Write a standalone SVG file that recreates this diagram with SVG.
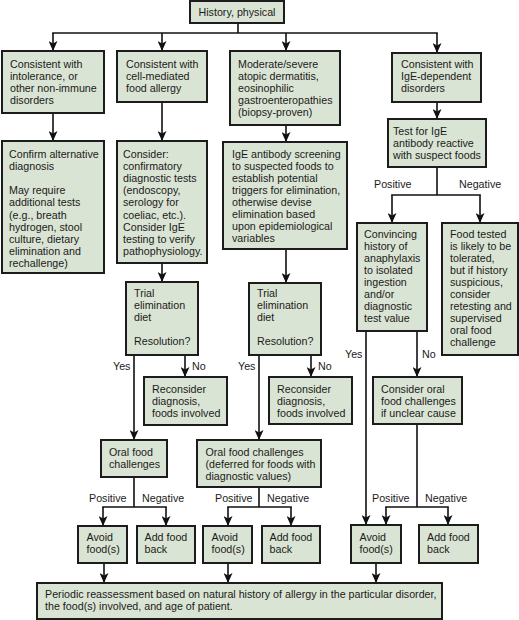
<svg xmlns="http://www.w3.org/2000/svg" width="519" height="620" viewBox="0 0 519 620">
<defs>
<marker id="ah" markerUnits="userSpaceOnUse" markerWidth="11" markerHeight="9" refX="10" refY="4.5" orient="auto" viewBox="0 0 11 9">
<path d="M0,0 L10,4.5 L0,9 L2.5,4.5 Z" fill="#111"/>
</marker>
</defs>
<style>
.b{fill:#dae4d4;stroke:#1c1c1c;stroke-width:2}
text{font-family:"Liberation Sans",Arial,Helvetica,sans-serif;font-size:10.7px;fill:#1a1a1a}
.c line,.c path{stroke:#111;stroke-width:1.6;fill:none}
.a{marker-end:url(#ah)}
</style>
<rect width="519" height="620" fill="#fff"/>

<g class="c" id="connectors">
<line x1="238" y1="23" x2="238" y2="33"/>
<line x1="52.2" y1="33" x2="437.8" y2="33"/>
<line class="a" x1="53" y1="33" x2="53" y2="51"/>
<line class="a" x1="162" y1="33" x2="162" y2="51"/>
<line class="a" x1="286" y1="33" x2="286" y2="51"/>
<line class="a" x1="437" y1="33" x2="437" y2="53"/>
<line class="a" x1="53" y1="113" x2="53" y2="141"/>
<line class="a" x1="162" y1="102" x2="162" y2="141"/>
<line class="a" x1="286" y1="125" x2="286" y2="142"/>
<line class="a" x1="437" y1="102" x2="437" y2="119"/>
<line x1="437" y1="167" x2="437" y2="195"/>
<line x1="391.2" y1="195" x2="480.8" y2="195"/>
<line class="a" x1="392" y1="195" x2="392" y2="223"/>
<line class="a" x1="480" y1="195" x2="480" y2="223"/>
<line class="a" x1="366" y1="331" x2="366" y2="525"/>
<line class="a" x1="417" y1="331" x2="417" y2="377"/>
<line x1="417" y1="424" x2="417" y2="507"/>
<line x1="385.2" y1="507" x2="448.8" y2="507"/>
<line class="a" x1="386" y1="507" x2="386" y2="525"/>
<line class="a" x1="448" y1="507" x2="448" y2="525"/>
<line class="a" x1="376" y1="563" x2="376" y2="583"/>
<line class="a" x1="162" y1="263" x2="162" y2="282"/>
<line class="a" x1="134" y1="355" x2="134" y2="440"/>
<line class="a" x1="185" y1="355" x2="185" y2="377"/>
<line x1="134" y1="477" x2="134" y2="507"/>
<line x1="102.2" y1="507" x2="166.8" y2="507"/>
<line class="a" x1="103" y1="507" x2="103" y2="526"/>
<line class="a" x1="166" y1="507" x2="166" y2="526"/>
<line class="a" x1="104" y1="563" x2="104" y2="583"/>
<line class="a" x1="286" y1="249" x2="286" y2="283"/>
<line class="a" x1="259" y1="355" x2="259" y2="440"/>
<line class="a" x1="311" y1="355" x2="311" y2="377"/>
<line x1="259" y1="487" x2="259" y2="507"/>
<line x1="227.2" y1="507" x2="291.8" y2="507"/>
<line class="a" x1="228" y1="507" x2="228" y2="526"/>
<line class="a" x1="291" y1="507" x2="291" y2="526"/>
<line class="a" x1="228" y1="563" x2="228" y2="583"/>
<text x="374" y="188">Positive</text>
<text x="459" y="188">Negative</text>
<text x="113" y="370">Yes</text>
<text x="192" y="370">No</text>
<text x="238" y="370">Yes</text>
<text x="318" y="370">No</text>
<text x="345" y="358">Yes</text>
<text x="422" y="358">No</text>
<text x="89" y="502">Positive</text>
<text x="142" y="502">Negative</text>
<text x="215" y="502">Positive</text>
<text x="267" y="502">Negative</text>
<text x="372" y="502">Positive</text>
<text x="425" y="502">Negative</text>
</g>

<g id="n-history"><rect class="b" x="190" y="1" width="94" height="22"/><text x="237" y="15.5" text-anchor="middle">History, physical</text></g>

<g id="n-intolerance"><rect class="b" x="2" y="51" width="102" height="62"/>
<text x="10" y="68">Consistent with</text><text x="10" y="80.1">intolerance, or</text><text x="10" y="92.2">other non-immune</text><text x="10" y="104.3">disorders</text></g>

<g id="n-cellmediated"><rect class="b" x="117" y="51" width="90" height="51"/>
<text x="126" y="68">Consistent with</text><text x="126" y="80.1">cell-mediated</text><text x="126" y="92.2">food allergy</text></g>

<g id="n-atopic"><rect class="b" x="230" y="51" width="110" height="74"/>
<text x="238" y="68">Moderate/severe</text><text x="238" y="80.1">atopic dermatitis,</text><text x="238" y="92.2">eosinophilic</text><text x="238" y="104.3">gastroenteropathies</text><text x="238" y="116.4">(biopsy-proven)</text></g>

<g id="n-igedep"><rect class="b" x="392" y="53" width="89" height="49"/>
<text x="401" y="68">Consistent with</text><text x="401" y="80.1">IgE-dependent</text><text x="401" y="92.2">disorders</text></g>

<g id="n-testige"><rect class="b" x="388" y="119" width="98" height="48"/>
<text x="393" y="135">Test for IgE</text><text x="393" y="147.1">antibody reactive</text><text x="393" y="159.2">with suspect foods</text></g>

<g id="n-confirm"><rect class="b" x="2" y="141" width="102" height="132"/>
<text x="9" y="158">Confirm alternative</text><text x="9" y="170.1">diagnosis</text>
<text x="9" y="194.3">May require</text><text x="9" y="206.4">additional tests</text><text x="9" y="218.5">(e.g., breath</text><text x="9" y="230.6">hydrogen, stool</text><text x="9" y="242.7">culture, dietary</text><text x="9" y="254.8">elimination and</text><text x="9" y="266.9">rechallenge)</text></g>

<g id="n-consider"><rect class="b" x="117" y="141" width="90" height="122"/>
<text x="123" y="158">Consider:</text><text x="123" y="170.1">confirmatory</text><text x="123" y="182.2">diagnostic tests</text><text x="123" y="194.3">(endoscopy,</text><text x="123" y="206.4">serology for</text><text x="123" y="218.5">coeliac, etc.).</text><text x="123" y="230.6">Consider IgE</text><text x="123" y="242.7">testing to verify</text><text x="123" y="254.8">pathophysiology.</text></g>

<g id="n-screening"><rect class="b" x="223" y="142" width="124" height="107"/>
<text x="232" y="157.5">IgE antibody screening</text><text x="232" y="169.6">to suspected foods to</text><text x="232" y="181.7">establish potential</text><text x="232" y="193.8">triggers for elimination,</text><text x="232" y="205.9">otherwise devise</text><text x="232" y="218">elimination based</text><text x="232" y="230.1">upon epidemiological</text><text x="232" y="242.2">variables</text></g>

<g id="n-convincing"><rect class="b" x="357" y="223" width="70" height="108"/>
<text x="364" y="238">Convincing</text><text x="364" y="250">history of</text><text x="364" y="262">anaphylaxis</text><text x="364" y="274">to isolated</text><text x="364" y="286">ingestion</text><text x="364" y="298">and/or</text><text x="364" y="310">diagnostic</text><text x="364" y="322">test value</text></g>

<g id="n-tolerated"><rect class="b" x="442" y="223" width="76" height="132"/>
<text x="450" y="238">Food tested</text><text x="450" y="250">is likely to be</text><text x="450" y="262">tolerated,</text><text x="450" y="274">but if history</text><text x="450" y="286">suspicious,</text><text x="450" y="298">consider</text><text x="450" y="310">retesting and</text><text x="450" y="322">supervised</text><text x="450" y="334">oral food</text><text x="450" y="346">challenge</text></g>

<g id="n-trial1"><rect class="b" x="126" y="282" width="72" height="73"/>
<text x="134" y="297">Trial</text><text x="134" y="309.1">elimination</text><text x="134" y="321.2">diet</text><text x="134" y="345.4">Resolution?</text></g>

<g id="n-trial2"><rect class="b" x="249" y="283" width="72" height="72"/>
<text x="257" y="297">Trial</text><text x="257" y="309.1">elimination</text><text x="257" y="321.2">diet</text><text x="257" y="345.4">Resolution?</text></g>

<g id="n-reconsider1"><rect class="b" x="144" y="377" width="83" height="48"/>
<text x="152" y="393">Reconsider</text><text x="152" y="405.1">diagnosis,</text><text x="152" y="417.2">foods involved</text></g>

<g id="n-reconsider2"><rect class="b" x="269" y="377" width="83" height="47"/>
<text x="277" y="393">Reconsider</text><text x="277" y="405.1">diagnosis,</text><text x="277" y="417.2">foods involved</text></g>

<g id="n-consideroral"><rect class="b" x="373" y="377" width="89" height="47"/>
<text x="381" y="393">Consider oral</text><text x="381" y="405.1">food challenges</text><text x="381" y="417.2">if unclear cause</text></g>

<g id="n-ofc1"><rect class="b" x="101" y="440" width="66" height="37"/>
<text x="109" y="456">Oral food</text><text x="109" y="468.1">challenges</text></g>

<g id="n-ofc2"><rect class="b" x="197" y="440" width="124" height="47"/>
<text x="205.5" y="456">Oral food challenges</text><text x="205.5" y="468.1">(deferred for foods with</text><text x="205.5" y="480.2">diagnostic values)</text></g>

<g id="n-avoid1"><rect class="b" x="78" y="526" width="49" height="37"/><text x="86.5" y="541">Avoid</text><text x="86.5" y="553.1">food(s)</text></g>
<g id="n-add1"><rect class="b" x="137" y="526" width="58" height="37"/><text x="144.5" y="541">Add food</text><text x="144.5" y="553.1">back</text></g>
<g id="n-avoid2"><rect class="b" x="203" y="526" width="49" height="37"/><text x="211.5" y="541">Avoid</text><text x="211.5" y="553.1">food(s)</text></g>
<g id="n-add2"><rect class="b" x="262" y="526" width="58" height="37"/><text x="269.5" y="541">Add food</text><text x="269.5" y="553.1">back</text></g>
<g id="n-avoid3"><rect class="b" x="351" y="525" width="50" height="38"/><text x="359.5" y="541">Avoid</text><text x="359.5" y="553.1">food(s)</text></g>
<g id="n-add3"><rect class="b" x="419" y="525" width="59" height="38"/><text x="427" y="541">Add food</text><text x="427" y="553.1">back</text></g>

<g id="n-periodic"><rect class="b" x="37" y="583" width="405" height="36"/>
<text x="45" y="598">Periodic reassessment based on natural history of allergy in the particular disorder,</text><text x="45" y="610.1">the food(s) involved, and age of patient.</text></g>
</svg>
